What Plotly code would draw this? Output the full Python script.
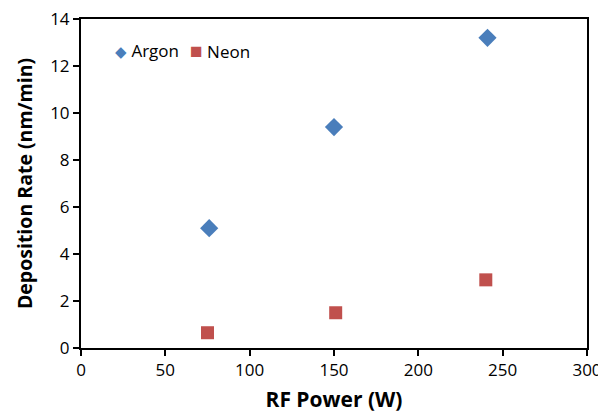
import plotly.graph_objects as go

argon_power = [76, 150, 241]
argon_rate = [5.1, 9.4, 13.2]
neon_power = [75, 151, 240]
neon_rate = [0.65, 1.5, 2.9]

x_ticks = [0, 50, 100, 150, 200, 250, 300]
y_ticks = [0, 2, 4, 6, 8, 10, 12, 14]

argon_color = "#4a7ebb"
neon_color = "#c0504d"
font_family = "Open Sans, Noto Sans, sans-serif"

fig = go.Figure()
fig.add_trace(go.Scatter(
    x=argon_power, y=argon_rate, mode="markers", name="Argon",
    marker=dict(symbol="diamond", size=14, color=argon_color),
))
fig.add_trace(go.Scatter(
    x=neon_power, y=neon_rate, mode="markers", name="Neon",
    marker=dict(symbol="square", size=13, color=neon_color),
))

axis_common = dict(
    showgrid=False, zeroline=False, showline=True, linecolor="black",
    linewidth=2, mirror=True, ticks="outside", ticklen=6, tickwidth=1.5,
    tickcolor="black", automargin=False, ticklabeloverflow="allow",
    tickfont=dict(family=font_family, size=17, color="black"),
)

# page body has an 8px default margin, so the figure is sized to fit the window
fig.update_layout(
    width=598, height=405,
    margin=dict(l=73, r=19, t=11, b=65),
    paper_bgcolor="white", plot_bgcolor="white",
    showlegend=False,
    xaxis=dict(
        range=[0, 300], tickvals=x_ticks,
        title=dict(text="<b>RF Power (W)</b>", standoff=13,
                   font=dict(family=font_family, size=21, color="black")),
        **axis_common,
    ),
    yaxis=dict(
        range=[0, 14], tickvals=y_ticks,
        title=dict(text="<b>Deposition Rate (nm/min)</b>", standoff=12,
                   font=dict(family=font_family, size=19.5, color="black")),
        **axis_common,
    ),
    annotations=[
        dict(xref="paper", yref="paper", x=0.063, y=0.905, xanchor="left",
             yanchor="middle", showarrow=False,
             text=f"<span style='color:{argon_color};font-size:15px'>◆</span> Argon",
             font=dict(family=font_family, size=17, color="black")),
        dict(xref="paper", yref="paper", x=0.212, y=0.905, xanchor="left",
             yanchor="middle", showarrow=False,
             text=f"<span style='color:{neon_color};font-size:21px'>■</span> Neon",
             font=dict(family=font_family, size=17, color="black")),
    ],
)

fig.write_html("out.html")
